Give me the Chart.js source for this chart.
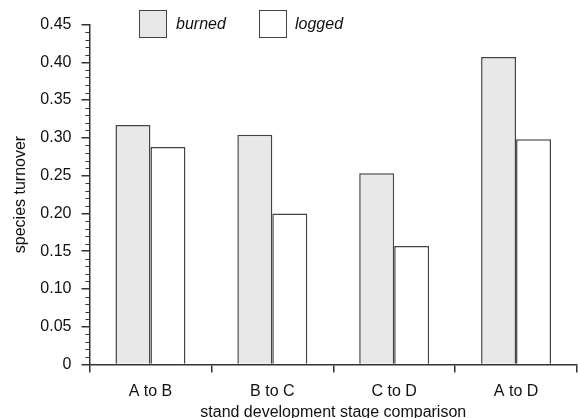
<!DOCTYPE html>
<html>
<head>
<meta charset="utf-8">
<script src="https://cdn.jsdelivr.net/npm/chart.js@4/dist/chart.umd.min.js"></script>
<style>
  html, body { margin: 0; padding: 0; background: #fff; }
  #wrap { position: relative; width: 578px; height: 418px; }
  canvas { position: absolute; left: 0; top: 0; }
  .leg { position: absolute; font: italic 16px "Liberation Sans", Arial, sans-serif; color: #111; }
  .leg .box { position: absolute; width: 26px; height: 26px; border: 1.5px solid #444; }
  .leg .txt { position: absolute; white-space: nowrap; line-height: 16px; }
</style>
</head>
<body>
<div id="wrap">
  <canvas id="chart" width="578" height="418"></canvas>
  <div id="legend"></div>
</div>
<script>
// Data
const categories = ['A to B', 'B to C', 'C to D', 'A to D'];
const burned = [0.317, 0.304, 0.253, 0.407];
const logged = [0.288, 0.200, 0.157, 0.298];
const yTickLabels = ['0', '0.05', '0.10', '0.15', '0.20', '0.25', '0.30', '0.35', '0.40', '0.45'];

const seriesNames = ['burned', 'logged'];
const seriesFill = ['#e8e8e8', '#ffffff'];

const FONT = '"Liberation Sans", Arial, sans-serif';
const INK = '#111';
const LINE = '#333';

// Minor ticks on y axis (every 0.01)
const minorTicks = {
    id: 'minorTicks',
    afterDraw(chart) {
        const y = chart.scales.y;
        const ctx = chart.ctx;
        const x0 = chart.chartArea.left;
        ctx.save();
        ctx.strokeStyle = LINE;
        ctx.lineWidth = 1;
        for (let i = 1; i < 45; i++) {
            if (i % 5 === 0) continue;
            const py = Math.round(y.getPixelForValue(i / 100)) + 0.5;
            ctx.beginPath();
            ctx.moveTo(x0 - 4, py);
            ctx.lineTo(x0, py);
            ctx.stroke();
        }
        ctx.restore();
    }
};

const ctx = document.getElementById('chart').getContext('2d');
const chart = new Chart(ctx, {
    type: 'bar',
    data: {
        labels: categories,
        datasets: [burned, logged].map((d, i) => ({
            label: seriesNames[i],
            data: d,
            backgroundColor: seriesFill[i],
            borderColor: '#444',
            borderWidth: 1.5,
            barPercentage: 1.0,
            categoryPercentage: 0.574
        }))
    },
    options: {
        responsive: false,
        animation: false,
        events: [],
        layout: { padding: { top: 24.5, right: 1, left: 0, bottom: 0 } },
        plugins: {
            legend: { display: false },
            tooltip: { enabled: false }
        },
        scales: {
            x: {
                afterFit(scale) { scale.height = 53.5; },
                border: { color: LINE, width: 1.5 },
                grid: { drawOnChartArea: false, tickLength: 8, color: LINE, lineWidth: 1.5 },
                ticks: { color: INK, font: { family: FONT, size: 16 }, padding: 9 },
                title: {
                    display: true,
                    text: 'stand development stage comparison',
                    color: INK,
                    font: { family: FONT, size: 16, lineHeight: 1 },
                    padding: { top: 0, bottom: -3 }
                }
            },
            y: {
                min: 0,
                max: 0.45,
                afterFit(scale) { scale.width = 89.5; },
                border: { color: LINE, width: 1.5 },
                grid: { drawOnChartArea: false, tickLength: 8, color: LINE, lineWidth: 1.5 },
                ticks: {
                    stepSize: 0.05,
                    color: INK,
                    padding: 10,
                    font: { family: FONT, size: 16 },
                    callback: (v, i) => yTickLabels[i]
                },
                title: {
                    display: true,
                    text: 'species turnover',
                    color: INK,
                    font: { family: FONT, size: 16, lineHeight: 1 },
                    padding: { top: 13, bottom: 0 }
                }
            }
        }
    },
    plugins: [minorTicks]
});

// Legend overlaid on top of the plot
const legendPos = [{ box: 139, txt: 176 }, { box: 259, txt: 295 }];
document.getElementById('legend').innerHTML = chart.data.datasets.map((ds, i) => `
    <div class="leg">
        <div class="box" style="left:${legendPos[i].box}px;top:10px;background:${ds.backgroundColor}"></div>
        <div class="txt" style="left:${legendPos[i].txt}px;top:16px">${ds.label}</div>
    </div>
`).join('');
</script>
</body>
</html>
